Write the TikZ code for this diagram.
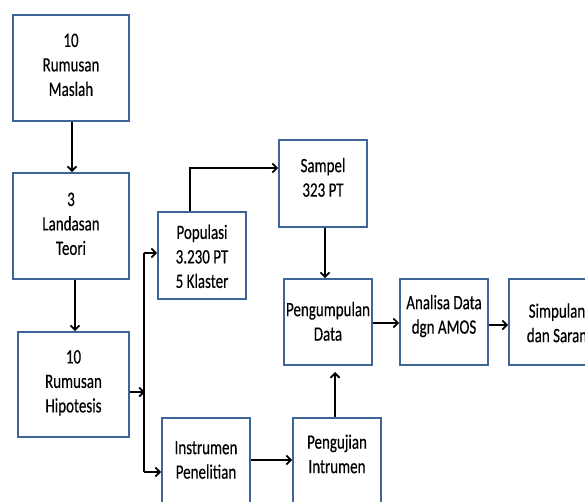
\documentclass[tikz,border=0pt]{standalone}
\usepackage{fontspec}
\usepackage{graphicx}
\setmainfont[FakeBold=0.4]{Carlito}
\usetikzlibrary{arrows.meta,calc}
\definecolor{boxblue}{HTML}{3F6497}
\newcommand{\tx}[2][0pt]{\raisebox{#1}[\height][\depth]{\scalebox{1}[1.36]{\begin{tabular}{@{}c@{}}#2\end{tabular}}}}
\tikzset{
  box/.style={draw=boxblue, line width=1.6pt, rectangle, align=center,
    font=\fontsize{15}{18}\selectfont, text=black, inner sep=0pt},
  arr/.style={draw=black, line width=1.8pt,
    -{Straight Barb[length=4.5pt,width=9pt,line width=1.8pt]}},
  ln/.style={draw=black, line width=1.8pt}
}
\begin{document}
\begin{tikzpicture}[x=1pt,y=-1pt]
\useasboundingbox (0,0) rectangle (585,502);
\begin{scope}
\clip (0,0) rectangle (585,502);
\node[box, minimum width=116, minimum height=106] (rm) at (71,68) {\tx[1.5pt]{10\\Rumusan\\Maslah}};
\node[box, minimum width=116, minimum height=106] (lt) at (71,226) {\tx[0.5pt]{3\\Landasan\\Teori}};
\node[box, minimum width=111, minimum height=105] (rh) at (73.5,384.5) {\tx[1.5pt]{10\\Rumusan\\Hipotesis}};
\node[box, minimum width=88, minimum height=87] (pop) at (202,255.5) {\tx[-3pt]{Populasi\\3.230 PT\\5 Klaster}};
\node[box, minimum width=88, minimum height=87] (sam) at (323,183.5) {\tx[4pt]{Sampel\\323 PT}};
\node[box, minimum width=88, minimum height=86] (peng) at (328,322) {\tx[-1.5pt]{Pengumpulan\\Data}};
\node[box, minimum width=88, minimum height=86] (ana) at (444,322) {\tx[5.5pt]{Analisa Data\\dgn AMOS}};
\node[box, minimum width=88, minimum height=86] (sim) at (553,322) {\tx[-3pt]{\hspace*{8pt}Simpulan\\\hspace*{8pt}dan Saran}};
\node[box, minimum width=88, minimum height=88] (ins) at (206,462) {\tx[0.5pt]{Instrumen\\Penelitian}};
\node[box, minimum width=88, minimum height=88] (uji) at (337,462) {\tx[6pt]{Pengujian\\Intrumen}};

\coordinate (jm) at (145,392);
\coordinate (jt) at (144,253);
\coordinate (jb) at (144,472);
\coordinate (pk) at (190,168);
\coordinate (uk) at (335,372);

\draw[arr] (rm.south -| 72,0) -- (lt.north -| 72,0);
\draw[arr] (lt.south -| 75,0) -- (rh.north -| 75,0);
\draw[arr] (rh.east |- jm) -- (jm);
\draw[ln] (jt) -- (jb);
\draw[arr] (jt) -- (jt -| pop.west);
\draw[arr] (jb) -- (jb -| ins.west);
\draw[arr] (pk |- pop.north) -- (pk) -- (pk -| sam.west);
\draw[arr] (sam.south -| 325,0) -- (peng.north -| 325,0);
\draw[arr] (peng.east |- 0,323) -- (ana.west |- 0,323);
\draw[arr] (ana.east |- 0,325) -- (sim.west |- 0,325);
\draw[arr] (ins.east |- 0,460) -- (uji.west |- 0,460);
\draw[arr] (uji.north -| uk) -- (uk);
\end{scope}
\end{tikzpicture}
\end{document}
